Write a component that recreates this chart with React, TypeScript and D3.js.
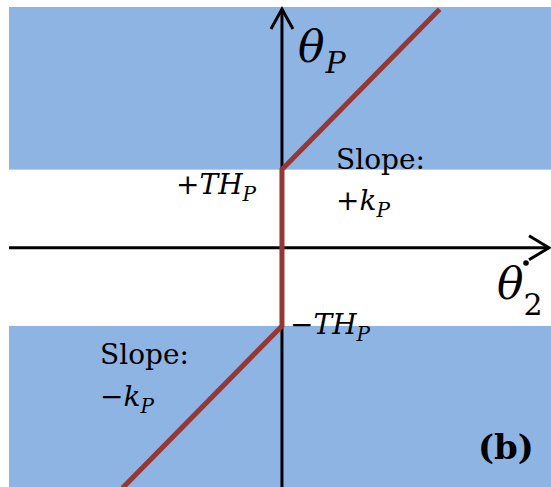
import React from "react";
import * as d3 from "d3";

// Dead-zone pitch law: theta_P as a function of theta2-dot
const TH = 1; // threshold magnitude (+TH_P / -TH_P)
const K = 1.02; // slope k_P outside the dead zone
const rateX = [-2.03, 0, 0, 2.01]; // theta2-dot breakpoints
const pitchY = [-TH + K * -2.03, -TH, TH, TH + K * 2.01]; // theta_P values

const xDomain = [-3.48, 3.43];
const yDomain = [-3.06, 3.08];

const W = 551;
const H = 487;

const serif = "DejaVu Serif";

export default function App() {
  const x = d3.scaleLinear().domain(xDomain).range([9, 551]);
  const y = d3.scaleLinear().domain(yDomain).range([487, 7]);

  const pts: [number, number][] = rateX.map((v, i) => [x(v), y(pitchY[i])]);
  const line = d3.line();

  const x0 = x(0);
  const y0 = y(0);

  return (
    <svg
      width={W}
      height={H}
      style={{ position: "absolute", left: 0, top: 0, background: "#fff" }}
    >
      {/* shaded regions beyond the thresholds */}
      <rect x={x(xDomain[0])} y={y(yDomain[1])} width={x(xDomain[1]) - x(xDomain[0])} height={y(TH) - y(yDomain[1])} fill="#8EB4E3" />
      <rect x={x(xDomain[0])} y={y(-TH)} width={x(xDomain[1]) - x(xDomain[0])} height={y(yDomain[0]) - y(-TH)} fill="#8EB4E3" />

      {/* axes */}
      <line x1={x(xDomain[0])} y1={y0} x2={549} y2={y0} stroke="#000" strokeWidth={3} />
      <polyline points={`${529},${y0 - 12} ${549},${y0} ${529},${y0 + 12}`} fill="none" stroke="#000" strokeWidth={3} />
      <line x1={x0} y1={487} x2={x0} y2={9} stroke="#000" strokeWidth={3} />
      <polyline points={`${x0 - 11},${29} ${x0},${9} ${x0 + 11},${29}`} fill="none" stroke="#000" strokeWidth={3} />

      {/* characteristic */}
      <path d={line(pts) || ""} fill="none" stroke="#953735" strokeWidth={5} strokeLinejoin="miter" />

      <g fontFamily={serif} fill="#000">
        {/* axis labels */}
        <text x={298} y={62} fontStyle="italic" fontSize={44}>
          θ<tspan fontSize={30} dx={1} dy={11}>P</tspan>
        </text>
        <text x={497} y={299} fontStyle="italic" fontSize={44}>
          θ<tspan fontSize={30} fontStyle="normal" dx={0} dy={16}>2</tspan>
        </text>
        <circle cx={526} cy={263} r={2.8} />

        {/* threshold labels */}
        <text x={176} y={194} fontSize={28}>
          +<tspan fontStyle="italic">TH</tspan>
          <tspan fontStyle="italic" fontSize={20} dy={7}>P</tspan>
        </text>
        <text x={290} y={334} fontSize={28}>
          −<tspan fontStyle="italic">TH</tspan>
          <tspan fontStyle="italic" fontSize={20} dy={7}>P</tspan>
        </text>

        {/* slope annotations */}
        <text x={336} y={169} fontSize={28}>Slope:</text>
        <text x={336} y={210} fontSize={28}>
          +<tspan fontStyle="italic">k</tspan>
          <tspan fontStyle="italic" fontSize={20} dy={7}>P</tspan>
        </text>
        <text x={100} y={364} fontSize={28}>Slope:</text>
        <text x={100} y={406} fontSize={28}>
          −<tspan fontStyle="italic">k</tspan>
          <tspan fontStyle="italic" fontSize={20} dy={7}>P</tspan>
        </text>

        <text x={478} y={459} fontWeight="bold" fontSize={34}>(b)</text>
      </g>
    </svg>
  );
}
